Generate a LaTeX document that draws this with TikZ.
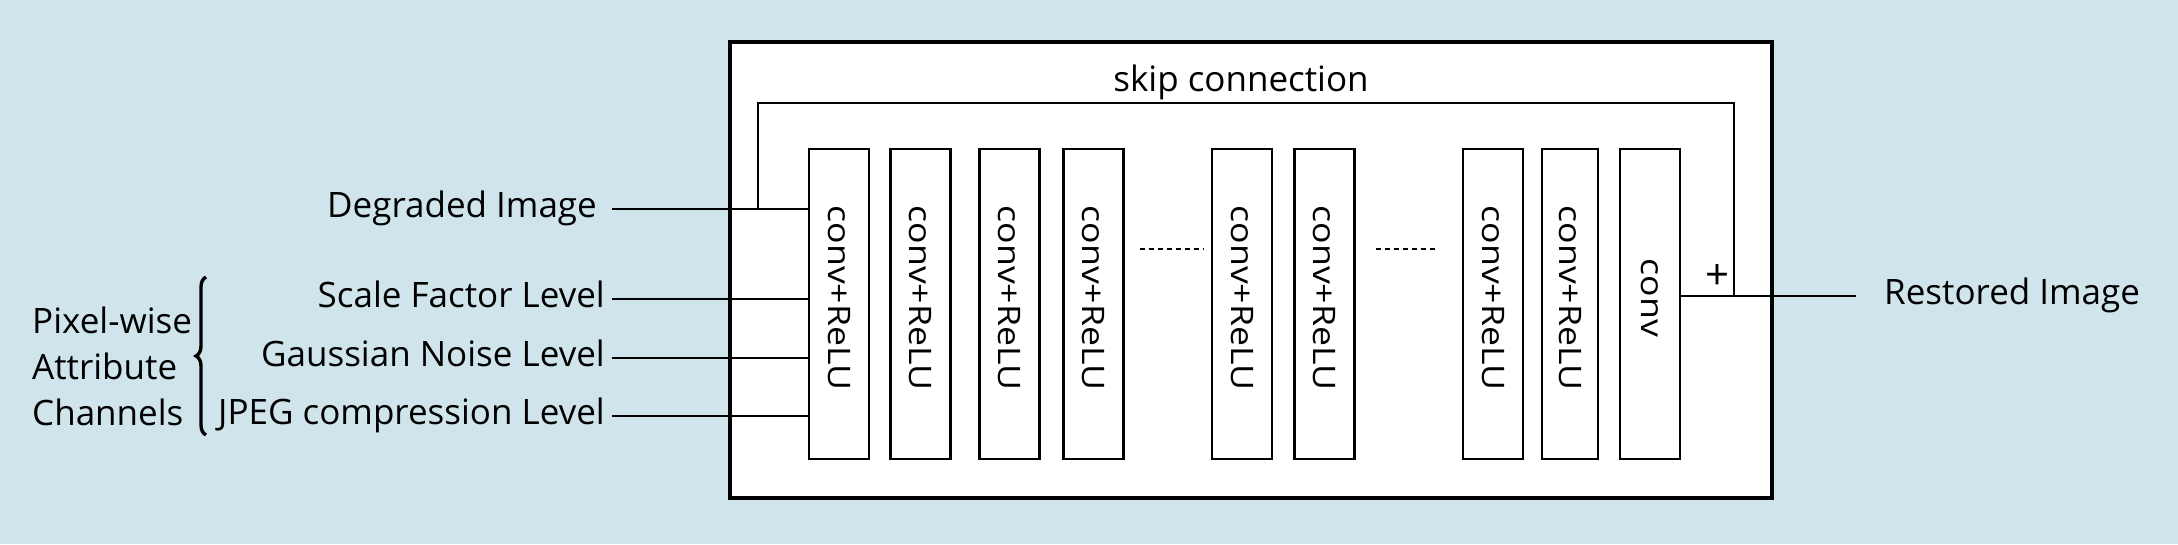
\documentclass[tikz,border=0pt]{standalone}
\usepackage{fontspec}
\setmainfont{Open Sans}
\newfontfamily\rotfont[FakeStretch=1.15]{Open Sans}
\usetikzlibrary{calc,decorations.pathreplacing}
\definecolor{bgblue}{RGB}{207,229,235}
\begin{document}
\begin{tikzpicture}[x=1pt,y=-1pt,
  lab/.style={font=\fontsize{35}{42}\selectfont, inner sep=0pt, text height=22pt, text depth=6pt},
  block/.style={draw, line width=2.2pt, fill=white, minimum width=60pt, minimum height=310pt, inner sep=0pt},
  btxt/.style={font=\rotfont\fontsize{31}{36}\selectfont, rotate=-90, inner sep=0pt},
  conn/.style={line width=2.2pt},
  dotline/.style={line width=2pt, dash pattern=on 5pt off 4pt},
  frame/.style={draw, line width=4.5pt, fill=white, minimum width=1042pt, minimum height=456pt, inner sep=0pt}]
\useasboundingbox (0,0) rectangle (2178,544);
\path[fill=bgblue] (0,0) rectangle (2178,544);
\node[frame] (box) at (1251,270) {};
% blocks
\foreach \n/\x in {1/839,2/920.5,3/1009.5,4/1093.5,5/1242,6/1324.5,7/1493,9/1650}
  \node[block] (b\n) at (\x,304) {};
\node[block, minimum width=56pt] (b8) at (1570,304) {};
\foreach \n in {1,2,3,4,5,6,7,8}
  \node[btxt] (t\n) at ([yshift=6pt]b\n.center) {conv+ReLU};
\node[btxt] (t9) at ([yshift=6pt]b9.center) {conv};
% dots
\draw[dotline] ($(b4.east)+(15,-55)$) -- ($(b5.west)+(-8,-55)$);
\draw[dotline] ($(b6.east)+(20,-55)$) -- ($(b7.west)+(-24,-55)$);
% input labels
\node[lab, anchor=east, inner xsep=15pt] (tdeg) at (612,209) {Degraded Image};
\node[lab, anchor=east, inner xsep=7pt] (tsf) at (612,299) {Scale Factor Level};
\node[lab, anchor=east, inner xsep=7pt] (tgn) at (612,358) {Gaussian Noise Level};
\node[lab, anchor=east, inner xsep=7pt] (tjp) at (612,416) {JPEG compression Level};
\draw[conn] (tdeg.east) -- (tdeg.east -| b1.west);
\draw[conn] (tsf.east) -- (tsf.east -| b1.west);
\draw[conn] (tgn.east) -- (tgn.east -| b1.west);
\draw[conn] (tjp.east) -- (tjp.east -| b1.west);
% attribute group
\node[lab, anchor=base west] (pw1) at (32,333) {Pixel-wise};
\node[lab, anchor=base west] (pw2) at (32,379) {Attribute};
\node[lab, anchor=base west] (pw3) at (32,425) {Channels};
\draw[line width=3.4pt, decorate, decoration={brace, amplitude=10pt}] (206,435) -- (206,277);
% output
\node[lab, anchor=west, inner xsep=28pt] (rest) at (1856,296) {Restored Image};
\draw[conn] (b9.east |- rest.west) -- (rest.west);
% skip connection
\coordinate (skipL) at (758,209);
\coordinate (skipR) at (1734,296);
\draw[conn] (skipL) -- ++(0,-106) -| (skipR);
\node[font=\fontsize{35}{42}\selectfont, anchor=base, inner sep=0pt] (sktxt) at (1241,91) {skip connection};
\node[font=\fontsize{42}{48}\selectfont, inner sep=0pt] (plus) at (1717,277) {+};
\end{tikzpicture}
\end{document}
